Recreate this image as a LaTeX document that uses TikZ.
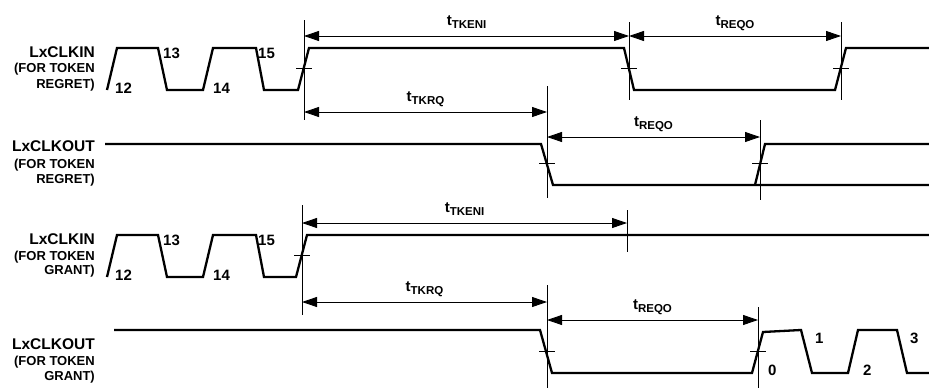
\documentclass[tikz,border=0pt]{standalone}
\usepackage{fontspec}
\setmainfont{Liberation Sans}
\usetikzlibrary{arrows.meta}

\tikzset{
  wave/.style={line width=2.3pt},
  guide/.style={line width=0.9pt},
  dimline/.style={line width=0.9pt, {Triangle[length=15pt,width=10pt]}-{Triangle[length=15pt,width=10pt]}},
  sig/.style={anchor=base east, inner sep=0pt, font=\bfseries\fontsize{15.5}{15.5}\selectfont},
  sigsub/.style={anchor=base east, inner sep=0pt, font=\bfseries\fontsize{13}{13}\selectfont},
  edgenum/.style={anchor=base west, inner sep=0pt, font=\bfseries\fontsize{15}{15}\selectfont},
  tlab/.style={anchor=base, inner sep=0pt, yshift=10.5pt, font=\bfseries}
}
\newcommand{\tdelay}[1]{{\fontsize{15}{15}\selectfont t}\raisebox{-3pt}{\fontsize{11.5}{11.5}\selectfont #1}}

\begin{document}
\begin{tikzpicture}[x=1pt,y=-1pt]
  \useasboundingbox (0,0) rectangle (929,388);

  % signal names
  \node [sig] (inR) at (95,57) {LxCLKIN};
  \node [sigsub] (inRa) at (95,72) {(FOR TOKEN};
  \node [sigsub] (inRb) at (95,88) {REGRET)};
  \node [sig] (outR) at (95,151) {LxCLKOUT};
  \node [sigsub] (outRa) at (95,168) {(FOR TOKEN};
  \node [sigsub] (outRb) at (95,183) {REGRET)};
  \node [sig] (inG) at (95,244) {LxCLKIN};
  \node [sigsub] (inGa) at (95,260) {(FOR TOKEN};
  \node [sigsub] (inGb) at (95,274) {GRANT)};
  \node [sig] (outG) at (95,349) {LxCLKOUT};
  \node [sigsub] (outGa) at (95,365) {(FOR TOKEN};
  \node [sigsub] (outGb) at (95,380) {GRANT)};

  % LxCLKIN, token regret
  \draw [wave] (107,90) -- (117,48) -- (158,48) -- (167,90) -- (203,90) -- (213,48) -- (256,48) -- (264,90)
        -- (298,90) -- (309,48) -- (624,48) -- (634,90) -- (835,90) -- (846,48) -- (929,48);
  \node [edgenum] (n12a) at (115,93) {12};
  \node [edgenum] (n13a) at (163,58) {13};
  \node [edgenum] (n14a) at (213,93) {14};
  \node [edgenum] (n15a) at (258,58) {15};

  \draw [guide] (304,20) -- (304,120); % marker
  \draw [guide] (629,22) -- (629,100); % marker
  \draw [guide] (841,22) -- (841,100); % marker
  \draw [guide] (296,68) -- (312,68);
  \draw [guide] (621,68) -- (637,68);
  \draw [guide] (833,68) -- (849,68);

  \coordinate (kenA) at (304,36);
  \coordinate (kenB) at (629,36);
  \coordinate (reqA) at (629,36);
  \coordinate (reqB) at (841,36);
  \coordinate (krqA) at (304,112);
  \coordinate (krqB) at (547,112);
  \draw [dimline] (kenA) -- (kenB) node [tlab, midway] (tken1) {\tdelay{TKENI}};
  \draw [dimline] (reqA) -- (reqB) node [tlab, midway] (treq1) {\tdelay{REQO}};
  \draw [dimline] (krqA) -- (krqB) node [tlab, midway] (tkrq1) {\tdelay{TKRQ}};

  % LxCLKOUT, token regret
  \draw [wave] (105,144) -- (541,144) -- (553,185) -- (929,185);
  \draw [wave] (755,185) -- (765,144) -- (929,144);

  \draw [guide] (547,86) -- (547,198); % marker
  \draw [guide] (760,120) -- (760,200); % marker
  \draw [guide] (539,163) -- (555,163);
  \draw [guide] (752,163) -- (768,163);

  \coordinate (reqC) at (547,137);
  \coordinate (reqD) at (760,137);
  \draw [dimline] (reqC) -- (reqD) node [tlab, midway] (treq2) {\tdelay{REQO}};

  % LxCLKIN, token grant
  \draw [wave] (107,277) -- (117,235) -- (158,235) -- (167,277) -- (203,277) -- (213,235) -- (256,235) -- (264,277)
        -- (296,277) -- (307,235) -- (929,235);
  \node [edgenum] (n12b) at (115,280) {12};
  \node [edgenum] (n13b) at (163,245) {13};
  \node [edgenum] (n14b) at (213,280) {14};
  \node [edgenum] (n15b) at (258,245) {15};

  \draw [guide] (302,205) -- (302,315); % marker
  \draw [guide] (627,210) -- (627,252); % marker
  \draw [guide] (294,255) -- (310,255);

  \coordinate (kenC) at (302,223);
  \coordinate (kenD) at (627,223);
  \coordinate (krqC) at (302,302);
  \coordinate (krqD) at (547,302);
  \draw [dimline] (kenC) -- (kenD) node [tlab, midway] (tken2) {\tdelay{TKENI}};
  \draw [dimline] (krqC) -- (krqD) node [tlab, midway] (tkrq2) {\tdelay{TKRQ}};

  % LxCLKOUT, token grant
  \draw [wave] (114,330) -- (540,330) -- (552,373) -- (752,373) -- (763,332) -- (801,330) -- (812,373)
        -- (848,373) -- (858,330) -- (897,330) -- (907,373) -- (929,373);
  \node [edgenum] (n0) at (768,375) {0};
  \node [edgenum] (n1) at (815,343) {1};
  \node [edgenum] (n2) at (863,375) {2};
  \node [edgenum] (n3) at (910,343) {3};

  \draw [guide] (547,285) -- (547,388); % marker
  \draw [guide] (758,307) -- (758,388); % marker
  \draw [guide] (539,351) -- (555,351);
  \draw [guide] (750,351) -- (766,351);

  \coordinate (reqE) at (547,320);
  \coordinate (reqF) at (758,320);
  \draw [dimline] (reqE) -- (reqF) node [tlab, midway] (treq3) {\tdelay{REQO}};
\end{tikzpicture}
\end{document}
